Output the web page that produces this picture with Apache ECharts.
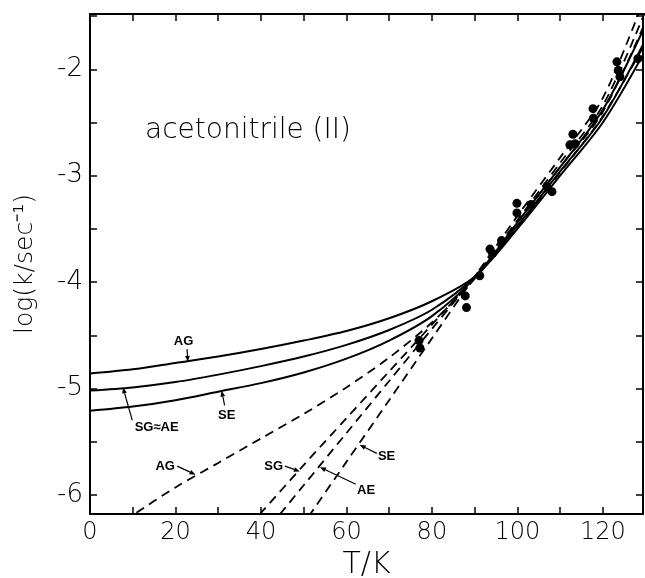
<!DOCTYPE html>
<html>
<head>
<meta charset="utf-8">
<script src="https://cdn.jsdelivr.net/npm/echarts@6/dist/echarts.min.js"></script>
<style>
  html, body { margin: 0; padding: 0; background: #fff; }
  #chart { width: 645px; height: 578px; }
</style>
</head>
<body>
<div id="chart"></div>
<script>
// Temperatures (K) at which the model curves are tabulated
const temps = [0, 10, 20, 30, 40, 50, 60, 70, 80, 90, 100, 110, 120, 130];

// Solid curves: log k for the three full-model fits
const solidAG   = [-4.86, -4.82, -4.76, -4.70, -4.63, -4.55, -4.46, -4.34, -4.18, -3.95, -3.50, -3.00, -2.50, -1.82];
const solidSGAE = [-5.02, -4.99, -4.94, -4.87, -4.79, -4.70, -4.59, -4.45, -4.26, -3.95, -3.47, -2.96, -2.45, -1.72];
const solidSE   = [-5.21, -5.17, -5.11, -5.03, -4.95, -4.85, -4.72, -4.55, -4.32, -3.96, -3.44, -2.92, -2.38, -1.58];

// Dashed curves: [T, log k]
const dashedAG = [[5, -6.32], [10, -6.19], [20, -5.93], [30, -5.70], [40, -5.47], [50, -5.24], [60, -4.99], [70, -4.71], [80, -4.38], [90, -3.97], [100, -3.48], [110, -2.97], [120, -2.44], [130, -1.75]];
const dashedSG = [[35, -6.39], [40, -6.17], [50, -5.72], [60, -5.28], [70, -4.84], [80, -4.40], [90, -3.95], [100, -3.44], [110, -2.92], [120, -2.40], [130, -1.55]];
const dashedAE = [[40, -6.40], [50, -5.91], [60, -5.42], [70, -4.93], [80, -4.44], [90, -3.95], [100, -3.42], [110, -2.88], [120, -2.34], [130, -1.45]];
const dashedSE = [[45, -6.55], [50, -6.27], [60, -5.69], [70, -5.11], [80, -4.53], [90, -3.95], [100, -3.38], [110, -2.83], [120, -2.27], [130, -1.30]];

// Measured rate constants: [T, log k]
const measured = [
  [77.0, -4.55], [77.2, -4.62], [87.8, -4.13], [88.1, -4.24], [91.2, -3.94],
  [93.6, -3.69], [94.2, -3.73], [96.3, -3.61], [99.9, -3.26], [99.9, -3.35],
  [103.2, -3.27], [106.9, -3.10], [108.1, -3.15], [112.3, -2.71], [113.0, -2.61],
  [113.5, -2.70], [117.7, -2.37], [117.8, -2.46], [123.3, -1.93], [123.6, -2.01],
  [124.0, -2.07], [128.2, -1.90]
];

// Axis ticks and labels
const xTicks  = [0, 10, 20, 30, 40, 50, 60, 70, 80, 90, 100, 110, 120, 130];
const xLabels = [0, 20, 40, 60, 80, 100, 120];
const yTicks  = [-6, -5.5, -5, -4.5, -4, -3.5, -3, -2.5, -2, -1.5];
const yLabels = [-6, -5, -4, -3, -2];

// Curve annotations: label position, arrow start, arrow tip (data units)
const notes = [
  { text: 'AG',    at: [21.9, -4.555], from: [22.7, -4.63], to: [22.9, -4.75] },
  { text: 'SG≈AE', at: [15.6, -5.37],  from: [9.9, -5.30],  to: [7.7, -4.99] },
  { text: 'SE',    at: [32.0, -5.25],  from: [31.5, -5.16], to: [30.8, -5.02] },
  { text: 'AG',    at: [17.6, -5.73],  from: [20.4, -5.73], to: [24.7, -5.81] },
  { text: 'SG',    at: [43.0, -5.73],  from: [45.6, -5.73], to: [49.1, -5.78] },
  { text: 'AE',    at: [64.6, -5.96],  from: [62.2, -5.90], to: [53.8, -5.74] },
  { text: 'SE',    at: [69.4, -5.64],  from: [67.1, -5.61], to: [63.1, -5.53] }
];

const X_MIN = 0, X_MAX = 129.4, Y_MIN = -6.18, Y_MAX = -1.48;
const textFont = '"DejaVu Sans", sans-serif';

const chart = echarts.init(document.getElementById('chart'), null, { renderer: 'canvas' });

const pairs = (xs, ys) => xs.map((x, i) => [x, ys[i]]);

function solid(data) {
  return {
    type: 'line', data, smooth: 0.3, symbol: 'none', clip: true,
    lineStyle: { color: '#000', width: 2 }, silent: true, z: 3
  };
}
function dashed(data) {
  return {
    type: 'line', data, smooth: 0.3, symbol: 'none', clip: true,
    lineStyle: { color: '#000', width: 1.8, type: [9, 6] }, silent: true, z: 3
  };
}

const frameAxis = {
  axisLine: { show: true, onZero: false, lineStyle: { color: '#000', width: 2 } },
  axisTick: { show: true, inside: true, length: 7, lineStyle: { color: '#000', width: 1.5 } },
  splitLine: { show: false }
};

chart.setOption({
  animation: false,
  backgroundColor: '#fff',
  grid: { left: 90, right: 2, top: 14, bottom: 64, containLabel: false, outerBoundsMode: 'none' },
  title: {
    text: 'acetonitrile (II)', left: 140, top: 112,
    textStyle: { fontFamily: textFont, fontWeight: 200, fontSize: 28, color: '#000' }
  },
  xAxis: [
    Object.assign({}, frameAxis, {
      type: 'value', min: X_MIN, max: X_MAX, position: 'bottom',
      axisTick: Object.assign({}, frameAxis.axisTick, { customValues: xTicks }),
      axisLabel: {
        customValues: xLabels, margin: 7, color: '#000',
        fontFamily: textFont, fontWeight: 200, fontSize: 24
      },
      name: 'T/K', nameLocation: 'middle', nameGap: 34,
      nameTextStyle: { fontFamily: textFont, fontWeight: 200, fontSize: 30, color: '#000' }
    }),
    Object.assign({}, frameAxis, {
      type: 'value', min: X_MIN, max: X_MAX, position: 'top',
      axisTick: Object.assign({}, frameAxis.axisTick, { customValues: xTicks }),
      axisLabel: { show: false }
    })
  ],
  yAxis: [
    Object.assign({}, frameAxis, {
      type: 'value', min: Y_MIN, max: Y_MAX, position: 'left',
      axisTick: Object.assign({}, frameAxis.axisTick, { customValues: yTicks }),
      axisLabel: {
        customValues: yLabels, margin: 7, color: '#000',
        fontFamily: textFont, fontWeight: 200, fontSize: 26,
        formatter: v => '-' + Math.abs(v)
      },
      name: 'log(k/sec⁻¹)', nameLocation: 'middle', nameGap: 52, nameRotate: 90,
      nameTextStyle: { fontFamily: textFont, fontWeight: 200, fontSize: 25, color: '#000' }
    }),
    Object.assign({}, frameAxis, {
      type: 'value', min: Y_MIN, max: Y_MAX, position: 'right',
      axisTick: Object.assign({}, frameAxis.axisTick, { customValues: yTicks }),
      axisLabel: { show: false }
    })
  ],
  series: [
    solid(pairs(temps, solidAG)),
    solid(pairs(temps, solidSGAE)),
    solid(pairs(temps, solidSE)),
    dashed(dashedAG),
    dashed(dashedSG),
    dashed(dashedAE),
    dashed(dashedSE),
    {
      type: 'scatter', data: measured, symbol: 'circle', symbolSize: 9,
      itemStyle: { color: '#000', opacity: 1 }, silent: true, z: 4
    }
  ]
});

// Curve labels with pointer arrows
const toPx = p => chart.convertToPixel({ xAxisIndex: 0, yAxisIndex: 0 }, p);
const elements = [];
notes.forEach(n => {
  const a = toPx(n.at), f = toPx(n.from), t = toPx(n.to);
  elements.push({
    type: 'text', x: a[0], y: a[1], silent: true,
    style: {
      text: n.text, fill: '#000', align: 'center', verticalAlign: 'middle',
      font: 'bold 13px "Liberation Sans", Arial, sans-serif'
    }
  });
  const dx = t[0] - f[0], dy = t[1] - f[1];
  const len = Math.hypot(dx, dy) || 1;
  const ux = dx / len, uy = dy / len;
  const hl = 6, hw = 2.4;
  const bx = t[0] - ux * hl, by = t[1] - uy * hl;
  elements.push({
    type: 'line', silent: true,
    shape: { x1: f[0], y1: f[1], x2: bx, y2: by },
    style: { stroke: '#000', lineWidth: 1.2 }
  });
  elements.push({
    type: 'polygon', silent: true,
    shape: { points: [[t[0], t[1]], [bx - uy * hw, by + ux * hw], [bx + uy * hw, by - ux * hw]] },
    style: { fill: '#000' }
  });
});
chart.setOption({ graphic: elements });
</script>
</body>
</html>
